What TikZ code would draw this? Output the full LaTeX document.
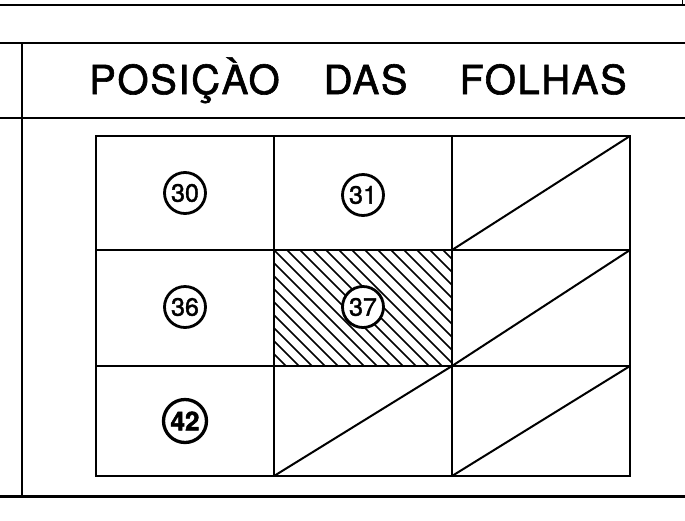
\documentclass[tikz,border=0pt]{standalone}
\usepackage{fontspec}
\setmainfont{TeX Gyre Heros}
\usepackage{tikz}

\tikzset{
    folha/.style={draw, circle, line width=2.8pt, fill=white, minimum size=41pt, inner sep=0pt, font=\fontsize{25}{25}\selectfont\addfontfeature{FakeBold=1.5}},
    grade/.style={line width=2pt},
    moldura/.style={line width=2.3pt}
}

\begin{document}
\begin{tikzpicture}[x=1pt, y=-1pt]
        \useasboundingbox (0, 0) rectangle (685, 520);
        % moldura
        \draw[moldura] (0, 5) -- (685, 5);
        \draw[line width=1pt] (682, 0) -- (682, 5);
        \draw[moldura] (0, 43) -- (685, 43);
        \draw[moldura] (0, 118) -- (685, 118);
        \draw[line width=3pt] (0, 496) -- (685, 496);
        \draw[moldura] (22, 43) -- (22, 496);
        \node[anchor=base west, inner sep=0pt, font=\fontsize{40}{40}\selectfont\addfontfeature{LetterSpace=4, FakeBold=1.5}] (titulo) at (89, 94) {POSIÇÀO\hspace{44pt}DAS\hspace{52pt}FOLHAS};
        % hachura
        \begin{scope}
            \clip (274, 250) rectangle (452, 366);
            \foreach \i in {-117, -104, ..., 178}
                \draw[line width=1.6pt] (274 + \i, 250) -- ++(116, 116);
        \end{scope}
        % grade
        \draw[grade] (96, 136) rectangle (630, 476);
        \draw[grade] (274, 136) -- (274, 476);
        \draw[grade] (452, 136) -- (452, 476);
        \draw[grade] (96, 250) -- (630, 250);
        \draw[grade] (96, 366) -- (630, 366);
        \draw[grade] (452, 250) -- (630, 136);
        \draw[grade] (452, 366) -- (630, 250);
        \draw[grade] (452, 476) -- (630, 366);
        \draw[grade] (274, 476) -- (452, 366);
        % folhas
        \node[folha] (f30) at (185, 193) {30};
        \node[folha] (f31) at (363, 195) {31};
        \node[folha] (f36) at (185, 307) {36};
        \node[folha] (f37) at (363, 307) {37};
        \node[folha, line width=3.3pt, minimum size=43pt, font=\fontsize{26}{26}\bfseries\addfontfeature{FakeBold=2}] (f42) at (185, 421) {42};
    \end{tikzpicture}
\end{document}
